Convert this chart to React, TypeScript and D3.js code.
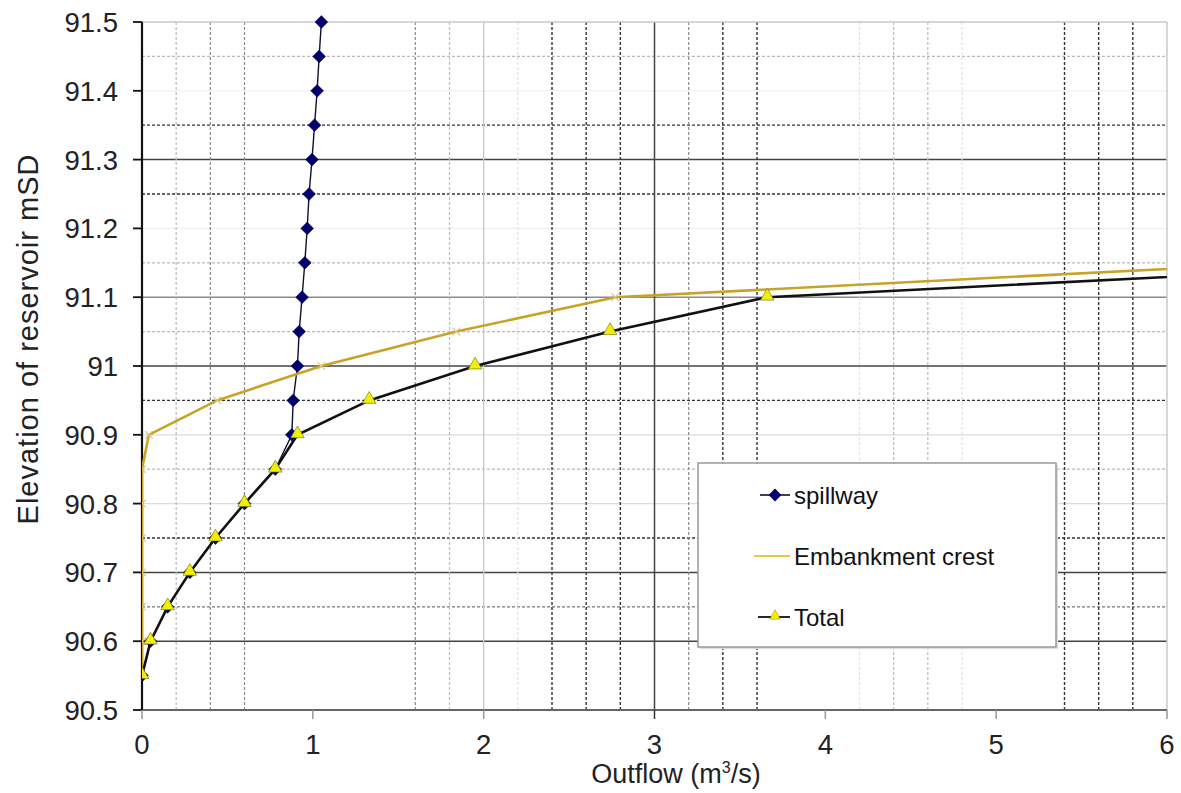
import React from 'react';
import * as d3 from 'd3';

// ---- data ----
const elevation = [90.55, 90.6, 90.65, 90.7, 90.75, 90.8, 90.85, 90.9, 90.95, 91.0, 91.05, 91.1, 91.15, 91.2, 91.25, 91.3, 91.35, 91.4, 91.45, 91.5];
const spillway = [0, 0.05, 0.15, 0.28, 0.43, 0.6, 0.78, 0.877, 0.885, 0.91, 0.92, 0.937, 0.953, 0.967, 0.978, 0.995, 1.01, 1.025, 1.037, 1.05];
const crestElevation = [90.55, 90.6, 90.65, 90.7, 90.75, 90.8, 90.85, 90.9, 90.95, 91.0, 91.05, 91.1, 91.15];
const embankment = [0, 0, 0, 0, 0, 0, 0, 0.04, 0.44, 1.05, 1.84, 2.77, 6.7];
const total = [0, 0.05, 0.15, 0.28, 0.43, 0.6, 0.78, 0.91, 1.33, 1.95, 2.74, 3.66, 7.65];

const xTicks = [0, 1, 2, 3, 4, 5, 6];
const yTicks = [90.5, 90.6, 90.7, 90.8, 90.9, 91.0, 91.1, 91.2, 91.3, 91.4, 91.5];

// gridlines (values), grouped by how they appear in the scan
const hSolidDark = [90.6, 90.7, 91.0, 91.3];
const hSolidMid = [91.1];
const hSolidLight = [90.8, 90.9];
const hSolidFaint = [91.2, 91.4];
const hDashDark = [90.75, 90.95, 91.25, 91.35];
const hDashMid = [90.65];
const hDashLight = [90.85, 91.05, 91.15, 91.45];

const vSolidDark = [3.0];
const vSolidLight = [2.0];
const vDashDark = [2.4, 2.6, 2.8, 3.4, 3.6, 5.4, 5.6, 5.8];
const vDashMid = [0.4, 0.6, 1.6, 3.2];
const vDashLight = [0.2, 1.8, 4.4, 4.6];
const vDashFaint = [2.2, 4.2, 4.8];

const legendItems = ['spillway', 'Embankment crest', 'Total'];

const FONT = '"Liberation Sans", Arial, sans-serif';

export default function App() {
  const W = 1181, H = 793;
  const left = 142, right = 1167, top = 22, bottom = 710;
  const x = d3.scaleLinear().domain([0, 6]).range([left, right]);
  const y = d3.scaleLinear().domain([90.5, 91.5]).range([bottom, top]);

  const spillPts = spillway.map((v, i) => [v, elevation[i]] as [number, number]);
  const embPts = embankment.map((v, i) => [v, crestElevation[i]] as [number, number]);
  const totPts = total.map((v, i) => [v, crestElevation[i]] as [number, number]);

  const line = d3.line<[number, number]>().x(d => x(d[0])).y(d => y(d[1]));

  const hLine = (vals: number[], stroke: string, dash?: string, w = 1.2) =>
    vals.map(v => (
      <line key={'h' + v + stroke} x1={left} x2={right} y1={y(v)} y2={y(v)} stroke={stroke} strokeWidth={w} strokeDasharray={dash} />
    ));
  const vLine = (vals: number[], stroke: string, dash?: string, w = 1.2) =>
    vals.map(v => (
      <line key={'v' + v + stroke} x1={x(v)} x2={x(v)} y1={top} y2={bottom} stroke={stroke} strokeWidth={w} strokeDasharray={dash} />
    ));

  const diamond = d3.symbol().type(d3.symbolDiamond2).size(105)() as string;
  const triangle = d3.symbol().type(d3.symbolTriangle).size(80)() as string;
  const cross = d3.symbol().type(d3.symbolTimes).size(40)() as string;

  const inPlot = (p: [number, number]) => p[0] <= 6.001;

  const lgX = 698, lgY = 463, lgW = 358, lgH = 184;
  const lgRowY = [495, 556, 617];

  return (
    <svg width={W} height={H} style={{ position: 'absolute', left: 0, top: 0, background: '#fff' }} fontFamily={FONT}>
      <defs>
        <clipPath id="plot">
          <rect x={left} y={top - 8} width={right - left} height={bottom - top + 16} />
        </clipPath>
      </defs>
      <rect x={0} y={0} width={W} height={H} fill="#fff" />

      {/* gridlines */}
      {hLine(hSolidFaint, '#f0f0f0')}
      {hLine(hSolidLight, '#dcdcdc')}
      {hLine(hSolidMid, '#8a8a8a', undefined, 1.5)}
      {hLine(hSolidDark, '#444', undefined, 1.5)}
      {hLine(hDashLight, '#b8b8b8', '3,2')}
      {hLine(hDashMid, '#777', '3,2')}
      {hLine(hDashDark, '#333', '3,2', 1.3)}
      {vLine(vDashFaint, '#e2e2e2', '3,2')}
      {vLine(vDashLight, '#bbbbbb', '3,2')}
      {vLine(vDashMid, '#888', '3,2')}
      {vLine(vDashDark, '#333', '3,2', 1.4)}
      {vLine(vSolidLight, '#c8c8c8', undefined, 1.3)}
      {vLine(vSolidDark, '#444', undefined, 1.5)}

      {/* plot frame */}
      <line x1={left} x2={right} y1={top} y2={top} stroke="#c8c8c8" strokeWidth={1.5} />
      <line x1={right} x2={right} y1={top} y2={bottom} stroke="#c8c8c8" strokeWidth={1.5} />
      <line x1={left} x2={right} y1={bottom} y2={bottom} stroke="#666" strokeWidth={1.8} />
      <line x1={left} x2={left} y1={top} y2={bottom} stroke="#111" strokeWidth={2.2} />

      {/* axis ticks */}
      {yTicks.map(t => (
        <g key={'yt' + t}>
          <line x1={left - 9} x2={left} y1={y(t)} y2={y(t)} stroke="#111" strokeWidth={1.8} />
          <text x={118} y={y(t)} dy="0.36em" textAnchor="end" fontSize={27.5} fill="#222">
            {String(+t.toFixed(1))}
          </text>
        </g>
      ))}
      {xTicks.map(t => (
        <g key={'xt' + t}>
          <line x1={x(t)} x2={x(t)} y1={bottom} y2={bottom + 9} stroke={t === 3 ? '#333' : '#999'} strokeWidth={1.5} />
          <text x={x(t)} y={754} textAnchor="middle" fontSize={27.5} fill="#222">{t}</text>
        </g>
      ))}

      {/* axis titles */}
      <text x={676} y={783} textAnchor="middle" fontSize={27} fill="#222">
        Outflow (m<tspan dy={-10} fontSize={16}>3</tspan><tspan dy={10}>/s)</tspan>
      </text>
      <text transform={`translate(38,339) rotate(-90)`} textAnchor="middle" fontSize={29} letterSpacing={1} fill="#222">
        Elevation of reservoir mSD
      </text>

      {/* series */}
      <g clipPath="url(#plot)">
        <path d={line(spillPts) as string} fill="none" stroke="#101030" strokeWidth={1.4} />
        {spillPts.map((p, i) => (
          <path key={'sd' + i} d={diamond} transform={`translate(${x(p[0])},${y(p[1])})`} fill="#00006e" stroke="#00004a" strokeWidth={0.5} />
        ))}
        <path d={line(embPts) as string} fill="none" stroke="#c9a227" strokeWidth={2.6} />
        {embPts.filter(inPlot).map((p, i) => (
          <path key={'ec' + i} d={cross} transform={`translate(${x(p[0])},${y(p[1])})`} fill="none" stroke="#d8c890" strokeWidth={1.2} />
        ))}
        <path d={line(totPts) as string} fill="none" stroke="#111" strokeWidth={2.6} />
        {totPts.filter(inPlot).map((p, i) => (
          <path key={'tt' + i} d={triangle} transform={`translate(${x(p[0])},${y(p[1]) - 1})`} fill="#f2f000" stroke="#6a6a20" strokeWidth={0.6} />
        ))}
      </g>

      {/* legend */}
      <rect x={lgX + 2} y={lgY + 2} width={lgW} height={lgH} fill="#ddd" />
      <rect x={lgX} y={lgY} width={lgW} height={lgH} fill="#fff" stroke="#999" strokeWidth={1.5} />
      {legendItems.map((name, i) => {
        const cy = lgRowY[i];
        return (
          <g key={name}>
            {i === 0 && (
              <g>
                <line x1={760} x2={790} y1={cy} y2={cy} stroke="#101030" strokeWidth={1.6} />
                <path d={diamond} transform={`translate(775,${cy})`} fill="#00006e" />
              </g>
            )}
            {i === 1 && (
              <line x1={754} x2={790} y1={cy} y2={cy} stroke="#e8c840" strokeWidth={2} />
            )}
            {i === 2 && (
              <g>
                <line x1={758} x2={790} y1={cy} y2={cy} stroke="#111" strokeWidth={1.8} />
                <path d={triangle} transform={`translate(775,${cy - 1}) scale(0.8)`} fill="#f2f000" stroke="#6a6a20" strokeWidth={0.5} />
              </g>
            )}
            <text x={794} y={cy} dy="0.36em" fontSize={24} fill="#111">{name}</text>
          </g>
        );
      })}
    </svg>
  );
}
